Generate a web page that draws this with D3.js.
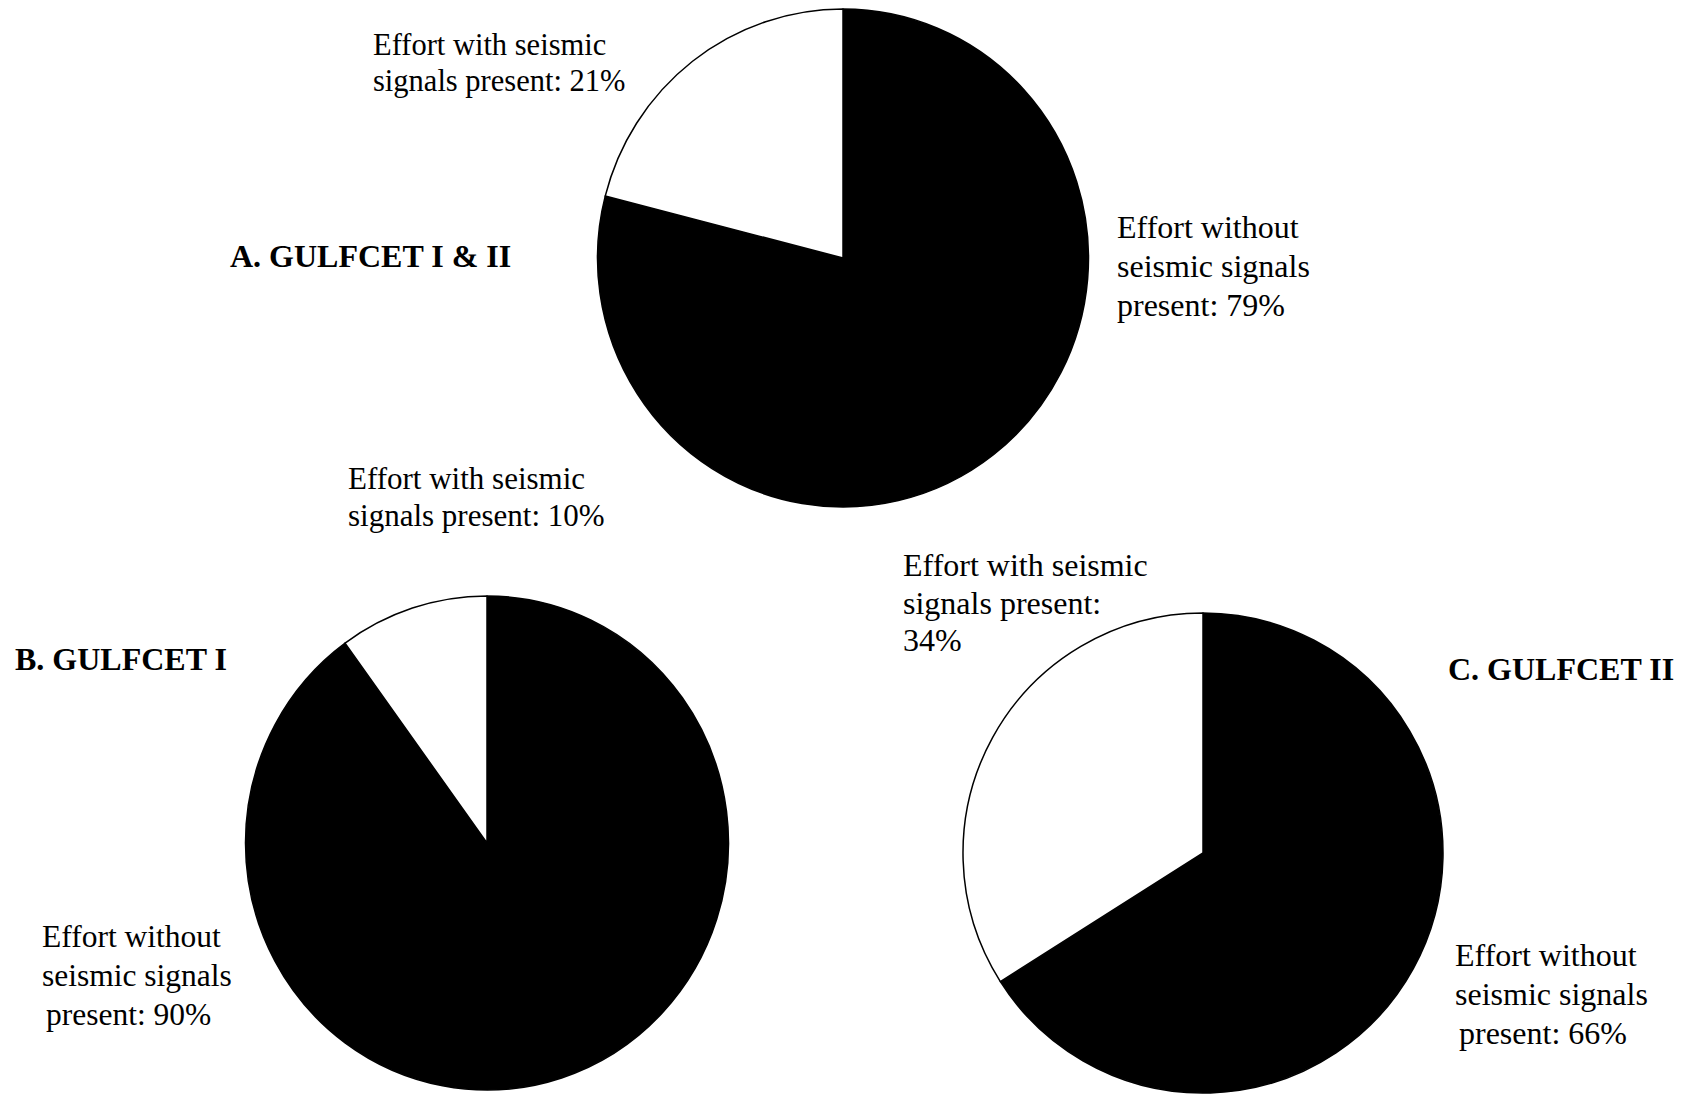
<!DOCTYPE html>
<html>
<head>
<meta charset="utf-8">
<script src="https://cdn.jsdelivr.net/npm/d3@7"></script>
<style>
  html, body { margin: 0; padding: 0; background: #fff; }
  svg { display: block; }
  text { font-family: "Liberation Serif", "Times New Roman", serif; fill: #000; }
</style>
</head>
<body>
<svg id="chart" width="1685" height="1095"></svg>
<script>
// ---- data ----
const panelTitles = ["A. GULFCET I & II", "B. GULFCET I", "C. GULFCET II"];
const categories = ["Effort without seismic signals present", "Effort with seismic signals present"];
const withoutSeismic = [79, 90, 66];
const withSeismic = [21, 10, 34];

// ---- layout ----
const layout = [
  { cx: 843, cy: 258, rx: 245.5, ry: 249,
    title: { x: 230, y: 267 },
    withLbl: { x: 373, y: 55, dy: 36, fs: 30.5, lines: p => ["Effort with seismic", `signals present: ${p}%`], indent: [0, 0] },
    withoutLbl: { x: 1117, y: 238, dy: 39, fs: 32, lines: p => ["Effort without", "seismic signals", `present: ${p}%`], indent: [0, 0, 0] } },
  { cx: 487, cy: 843, rx: 241.5, ry: 247,
    title: { x: 15, y: 670 },
    withLbl: { x: 348, y: 489, dy: 37, fs: 31, lines: p => ["Effort with seismic", `signals present: ${p}%`], indent: [0, 0] },
    withoutLbl: { x: 42, y: 947, dy: 39, fs: 31.5, lines: p => ["Effort without", "seismic signals", `present: ${p}%`], indent: [0, 0, 4] } },
  { cx: 1203, cy: 853, rx: 240, ry: 240,
    title: { x: 1448, y: 680 },
    withLbl: { x: 903, y: 576, dy: 37.5, fs: 32, lines: p => ["Effort with seismic", "signals present:", `${p}%`], indent: [0, 0, 0] },
    withoutLbl: { x: 1455, y: 966, dy: 39, fs: 32, lines: p => ["Effort without", "seismic signals", `present: ${p}%`], indent: [0, 0, 4] } }
];
const sliceColors = ["#000", "#fff"];

const svg = d3.select("#chart");
const pie = d3.pie().sort(null).value(d => d.value).startAngle(0).endAngle(2 * Math.PI);

panelTitles.forEach((title, i) => {
  const L = layout[i];
  const data = [
    { cat: categories[0], value: withoutSeismic[i] },
    { cat: categories[1], value: withSeismic[i] }
  ];
  const arc = d3.arc().innerRadius(0).outerRadius(L.rx);
  const g = svg.append("g")
    .attr("transform", `translate(${L.cx},${L.cy}) scale(1,${L.ry / L.rx})`);
  g.selectAll("path").data(pie(data)).join("path")
    .attr("d", arc)
    .attr("fill", (d, j) => sliceColors[j])
    .attr("stroke", "#000")
    .attr("stroke-width", 1.5)
    .attr("stroke-linejoin", "round");

  svg.append("text")
    .attr("x", L.title.x).attr("y", L.title.y)
    .attr("font-size", 32).attr("font-weight", "bold")
    .text(title);

  const addLabel = (lbl, pct) => {
    const t = svg.append("text").attr("font-size", lbl.fs);
    lbl.lines(pct).forEach((s, k) => {
      t.append("tspan")
        .attr("x", lbl.x + lbl.indent[k])
        .attr("y", lbl.y + k * lbl.dy)
        .text(s);
    });
  };
  addLabel(L.withLbl, withSeismic[i]);
  addLabel(L.withoutLbl, withoutSeismic[i]);
});
</script>
</body>
</html>
